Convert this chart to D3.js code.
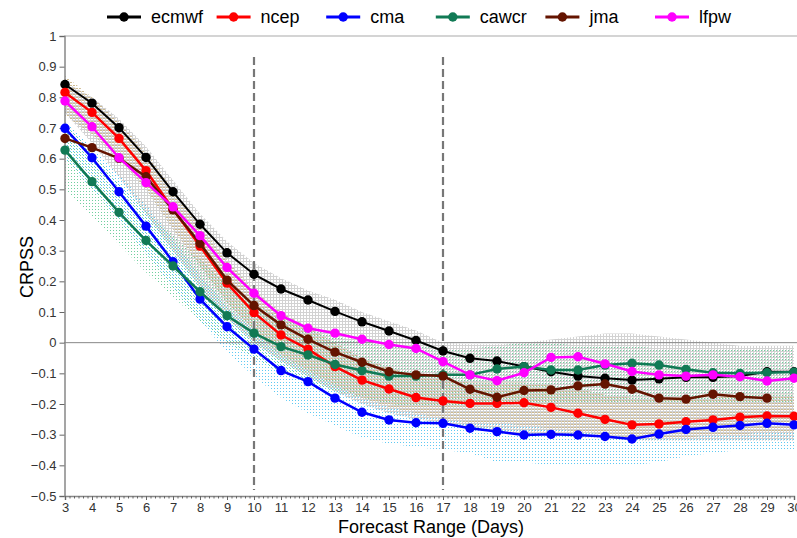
<html>
<head>
<meta charset="utf-8">
<style>
  body { margin: 0; background: #fff; }
  svg { display: block; font-family: "Liberation Sans", Arial, sans-serif; }
</style>
</head>
<body>
<svg id="chart" width="797" height="538"></svg>
<script src="https://d3js.org/d3.v7.min.js"></script>
<script>
// forecast day 3..30
const days = d3.range(3, 31)

// CRPSS per centre
const ecmwf = [0.842,0.781,0.701,0.604,0.492,0.386,0.293,0.223,0.175,0.139,0.102,0.068,0.038,0.007,-0.027,-0.051,-0.06,-0.078,-0.095,-0.109,-0.116,-0.122,-0.118,-0.113,-0.113,-0.109,-0.095,-0.095]
const ncep  = [0.816,0.751,0.666,0.561,0.435,0.315,0.194,0.098,0.025,-0.021,-0.078,-0.122,-0.151,-0.179,-0.19,-0.198,-0.198,-0.196,-0.211,-0.23,-0.25,-0.268,-0.265,-0.258,-0.252,-0.243,-0.239,-0.24]
const cma   = [0.699,0.603,0.492,0.38,0.264,0.142,0.052,-0.021,-0.091,-0.127,-0.181,-0.227,-0.252,-0.261,-0.263,-0.279,-0.29,-0.301,-0.299,-0.301,-0.306,-0.314,-0.298,-0.283,-0.276,-0.27,-0.263,-0.268]
const cawcr = [0.628,0.525,0.425,0.333,0.25,0.166,0.088,0.031,-0.013,-0.04,-0.071,-0.091,-0.109,-0.109,-0.105,-0.105,-0.086,-0.078,-0.089,-0.089,-0.073,-0.067,-0.073,-0.087,-0.098,-0.1,-0.098,-0.096]
const jma   = [0.666,0.636,0.601,0.541,0.433,0.324,0.204,0.121,0.058,0.011,-0.031,-0.064,-0.095,-0.105,-0.109,-0.152,-0.178,-0.156,-0.154,-0.141,-0.135,-0.152,-0.181,-0.184,-0.168,-0.176,-0.181,null]
const lfpw  = [0.788,0.704,0.603,0.522,0.443,0.349,0.245,0.161,0.088,0.047,0.031,0.011,-0.006,-0.019,-0.062,-0.105,-0.124,-0.098,-0.048,-0.046,-0.069,-0.094,-0.105,-0.109,-0.105,-0.111,-0.125,-0.116]

// stippled spread bands (upper / lower edge)
const grayHi  = [0.85,0.8,0.73,0.64,0.53,0.42,0.33,0.26,0.21,0.17,0.14,0.1,0.07,0.04,0.0,-0.005,-0.005,0.0,0.01,0.02,0.03,0.03,0.02,0.01,0.0,-0.01,-0.01,-0.01]
const grayLo  = [0.75,0.65,0.54,0.42,0.3,0.18,0.08,0.0,-0.06,-0.11,-0.16,-0.2,-0.23,-0.25,-0.26,-0.28,-0.29,-0.3,-0.3,-0.31,-0.31,-0.32,-0.32,-0.32,-0.32,-0.32,-0.32,-0.32]
const cyanHi  = [0.72,0.64,0.55,0.45,0.34,0.22,0.12,0.04,-0.03,-0.07,-0.11,-0.15,-0.17,-0.18,-0.19,-0.2,-0.2,-0.2,-0.2,-0.2,-0.2,-0.2,-0.2,-0.2,-0.2,-0.2,-0.2,-0.2]
const cyanLo  = [0.6,0.5,0.4,0.29,0.18,0.07,-0.03,-0.11,-0.18,-0.23,-0.27,-0.31,-0.33,-0.34,-0.35,-0.36,-0.39,-0.39,-0.4,-0.4,-0.4,-0.4,-0.39,-0.37,-0.36,-0.35,-0.35,-0.35]
const greenHi = [0.72,0.62,0.52,0.43,0.35,0.27,0.19,0.13,0.08,0.05,0.02,0.0,-0.01,-0.01,-0.02,-0.02,-0.01,0.0,0.0,-0.01,-0.01,-0.01,-0.02,-0.02,-0.02,-0.02,-0.02,-0.02]
const greenLo = [0.5,0.41,0.32,0.23,0.15,0.07,0.0,-0.05,-0.1,-0.13,-0.16,-0.18,-0.2,-0.21,-0.21,-0.2,-0.19,-0.2,-0.2,-0.2,-0.2,-0.2,-0.2,-0.2,-0.2,-0.2,-0.2,-0.2]
const tanHi   = [0.87,0.8,0.72,0.62,0.5,0.38,0.27,0.17,0.1,0.05,0.0,-0.05,-0.08,-0.11,-0.12,-0.13,-0.13,-0.13,-0.14,-0.15,-0.17,-0.18,-0.18,-0.18,-0.18,-0.17,-0.17,-0.17]
const tanLo   = [0.74,0.68,0.6,0.5,0.37,0.25,0.13,0.04,-0.04,-0.09,-0.14,-0.18,-0.21,-0.23,-0.25,-0.26,-0.26,-0.27,-0.28,-0.29,-0.3,-0.31,-0.31,-0.31,-0.3,-0.3,-0.29,-0.29]

const names  = ['ecmwf','ncep','cma','cawcr','jma','lfpw']
const colors = ['#000000','#ff0000','#0000ff','#117a55','#641400','#ff00ff']
const series = [ecmwf, ncep, cma, cawcr, jma, lfpw]
const yTicks = d3.range(-5, 11).map(d => d / 10)
const dashDays = [10, 17]

const svg = d3.select('#chart')
const x = d3.scaleLinear().domain([3, 30]).range([65, 794])
const y = d3.scaleLinear().domain([-0.5, 1]).range([496, 36])

// patterns for stipple
const defs = svg.append('defs')
function pattern(id, cells, color) {
  const p = defs.append('pattern').attr('id', id).attr('patternUnits', 'userSpaceOnUse')
    .attr('width', 3).attr('height', 3)
  cells.forEach(c => p.append('rect').attr('x', c[0]).attr('y', c[1]).attr('width', c[2]).attr('height', c[3]).attr('fill', color))
}
pattern('pCyan', [[1,1,1,1]], '#5ec9f2')
pattern('pGreen', [[2,2,1,1]], '#6fcf9e')
pattern('pTan', [[1,1,2,1]], '#cdb98f')
pattern('pGray', [[0,0,3,1],[0,0,1,3]], '#d2d2d2')

const area = (hi, lo) => d3.area().x((d, i) => x(days[i])).y0((d, i) => y(lo[i])).y1((d, i) => y(hi[i]))(hi)
const band = svg.append('g')
band.append('path').attr('d', area(cyanHi, cyanLo)).attr('fill', 'url(#pCyan)')
band.append('path').attr('d', area(greenHi, greenLo)).attr('fill', 'url(#pGreen)')
band.append('path').attr('d', area(tanHi, tanLo)).attr('fill', 'url(#pTan)')
band.append('path').attr('d', area(grayHi, grayLo)).attr('fill', 'url(#pGray)')

// frame top + zero line
svg.append('line').attr('x1', 64).attr('x2', 797).attr('y1', y(1)).attr('y2', y(1))
  .attr('stroke', '#aaa').attr('stroke-width', 1.2)
svg.append('line').attr('x1', 64).attr('x2', 797).attr('y1', y(0)).attr('y2', y(0))
  .attr('stroke', '#888').attr('stroke-width', 1)

// dashed markers
svg.selectAll('.dash').data(dashDays).enter().append('line').classed('dash', true)
  .attr('x1', d => x(d)).attr('x2', d => x(d)).attr('y1', 57).attr('y2', 490)
  .attr('stroke', '#777').attr('stroke-width', 2.2).attr('stroke-dasharray', '8,4')

// axes
svg.append('g').attr('transform', 'translate(64.5,0)')
  .call(d3.axisLeft(y).tickValues(yTicks).tickSize(5).tickPadding(3)
    .tickFormat(d => d === 0 ? '0' : d === 1 ? '1' : d3.format('.1f')(d)))
svg.append('g').attr('transform', `translate(0,${y(-0.5)})`)
  .call(d3.axisBottom(x).tickValues(days).tickSize(4).tickPadding(3).tickFormat(d3.format('d')))
const minor = d3.range(3 * 6, 30 * 6 + 1).map(d => d / 6).filter(d => d % 1 !== 0)
svg.append('g').attr('transform', `translate(0,${y(-0.5)})`)
  .call(d3.axisBottom(x).tickValues(minor).tickSize(2.5).tickFormat(''))
  .call(g => g.select('.domain').remove())
svg.selectAll('.domain').attr('stroke', '#888').attr('stroke-width', 1.5)
svg.selectAll('.tick line').attr('stroke', '#666')
svg.selectAll('.tick text').attr('fill', '#333').attr('font-size', 13)
  .attr('font-family', '"Liberation Sans", Arial, sans-serif')

// series
const line = d3.line().defined(d => d.v != null).x(d => x(d.day)).y(d => y(d.v))
series.forEach((s, k) => {
  const pts = s.map((v, i) => ({day: days[i], v: v}))
  svg.append('path').datum(pts).attr('d', line).attr('fill', 'none')
    .attr('stroke', colors[k]).attr('stroke-width', k === 0 ? 2 : 2.5)
  svg.selectAll('.pt' + k).data(pts.filter(d => d.v != null)).enter().append('circle')
    .attr('class', 'pt' + k).attr('cx', d => x(d.day)).attr('cy', d => y(d.v))
    .attr('r', 4.7).attr('fill', colors[k])
})

// legend
const leg = svg.append('g')
names.forEach((n, i) => {
  const lx = 107 + i * 109.6
  leg.append('line').attr('x1', lx).attr('x2', lx + 34).attr('y1', 17).attr('y2', 17)
    .attr('stroke', colors[i]).attr('stroke-width', 3)
  leg.append('circle').attr('cx', lx + 17).attr('cy', 17).attr('r', 4.7).attr('fill', colors[i])
  leg.append('text').attr('x', lx + 44).attr('y', 17).attr('dy', '0.35em')
    .attr('font-size', 18).attr('fill', '#000').text(n)
})

// axis titles
svg.append('text').attr('transform', 'translate(33,267) rotate(-90)').attr('text-anchor', 'middle')
  .attr('font-size', 18).attr('fill', '#000').text('CRPSS')
svg.append('text').attr('x', 431).attr('y', 533).attr('text-anchor', 'middle')
  .attr('font-size', 18).attr('fill', '#000').text('Forecast Range (Days)')
</script>
</body>
</html>
